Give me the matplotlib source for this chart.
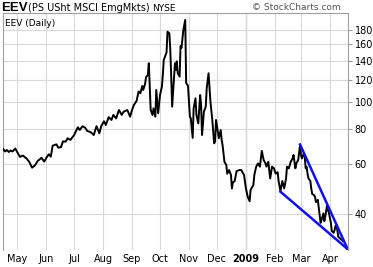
import matplotlib
matplotlib.use('Agg')
import matplotlib.pyplot as plt
import matplotlib.dates as mdates
from matplotlib.ticker import FixedLocator, NullLocator, FuncFormatter
import pandas as pd

dates = [
    '2008-04-16', '2008-04-18', '2008-04-20', '2008-04-22', '2008-04-24', '2008-04-26', '2008-04-29',
    '2008-05-01', '2008-05-04', '2008-05-07', '2008-05-11', '2008-05-14', '2008-05-17', '2008-05-20',
    '2008-05-23', '2008-05-27', '2008-05-30',
    '2008-06-02', '2008-06-04', '2008-06-06', '2008-06-08', '2008-06-12', '2008-06-14', '2008-06-17',
    '2008-06-19', '2008-06-22', '2008-06-24', '2008-06-27',
    '2008-07-01', '2008-07-05', '2008-07-07', '2008-07-10', '2008-07-13', '2008-07-15', '2008-07-19',
    '2008-07-22', '2008-07-25', '2008-07-28', '2008-07-30',
    '2008-08-02', '2008-08-04', '2008-08-07', '2008-08-10', '2008-08-12', '2008-08-15', '2008-08-18',
    '2008-08-21', '2008-08-23', '2008-08-27', '2008-08-30',
    '2008-09-01', '2008-09-03', '2008-09-06', '2008-09-08', '2008-09-10', '2008-09-12', '2008-09-13',
    '2008-09-15', '2008-09-16', '2008-09-18', '2008-09-19', '2008-09-20', '2008-09-21', '2008-09-23',
    '2008-09-24', '2008-09-26', '2008-09-27', '2008-09-29',
    '2008-10-01', '2008-10-03', '2008-10-04', '2008-10-05', '2008-10-08', '2008-10-09', '2008-10-11',
    '2008-10-12', '2008-10-13', '2008-10-14', '2008-10-16', '2008-10-17', '2008-10-18', '2008-10-19',
    '2008-10-20', '2008-10-22', '2008-10-23', '2008-10-24', '2008-10-26', '2008-10-28', '2008-10-29',
    '2008-10-31',
    '2008-11-02', '2008-11-03', '2008-11-05', '2008-11-06', '2008-11-08', '2008-11-09', '2008-11-11',
    '2008-11-13', '2008-11-14', '2008-11-15', '2008-11-17', '2008-11-19', '2008-11-20', '2008-11-22',
    '2008-11-24', '2008-11-26', '2008-11-28', '2008-11-29', '2008-11-30',
    '2008-12-02', '2008-12-03', '2008-12-05', '2008-12-06', '2008-12-07', '2008-12-09', '2008-12-11',
    '2008-12-12', '2008-12-14', '2008-12-16', '2008-12-17', '2008-12-18', '2008-12-20', '2008-12-22',
    '2008-12-25', '2008-12-27', '2008-12-30',
    '2009-01-01', '2009-01-03', '2009-01-05', '2009-01-06', '2009-01-09', '2009-01-10', '2009-01-12',
    '2009-01-14', '2009-01-16', '2009-01-18', '2009-01-20', '2009-01-22', '2009-01-23', '2009-01-25',
    '2009-01-27', '2009-01-29', '2009-01-31',
    '2009-02-02', '2009-02-04', '2009-02-05', '2009-02-07', '2009-02-09', '2009-02-11', '2009-02-13',
    '2009-02-14', '2009-02-16', '2009-02-18', '2009-02-20', '2009-02-21', '2009-02-23', '2009-02-24',
    '2009-02-26', '2009-02-28',
    '2009-03-01', '2009-03-02', '2009-03-04', '2009-03-05', '2009-03-06', '2009-03-07', '2009-03-08',
    '2009-03-09', '2009-03-11', '2009-03-12', '2009-03-13', '2009-03-15', '2009-03-16', '2009-03-17',
    '2009-03-19', '2009-03-21', '2009-03-22', '2009-03-23', '2009-03-25', '2009-03-26', '2009-03-27',
    '2009-03-29', '2009-03-30', '2009-03-31',
    '2009-04-02', '2009-04-03', '2009-04-05', '2009-04-06', '2009-04-07', '2009-04-08', '2009-04-09',
    '2009-04-10', '2009-04-12', '2009-04-14', '2009-04-15',
]
closes = [
    68.1, 66.7, 67.5, 66.4, 67.2, 66.7, 68.3,
    66.4, 63.8, 64.5, 63.0, 61.2, 58.4, 59.5,
    61.7, 63.3, 61.4,
    63.9, 65.2, 63.9, 69.9, 70.7, 68.8, 69.1,
    72.4, 72.3, 74.3, 73.3,
    76.3, 81.3, 79.5, 82.0, 80.9, 78.9, 78.0,
    76.3, 82.0, 77.4, 82.0,
    85.4, 82.8, 88.3, 86.3, 89.9, 87.4, 93.6,
    89.9, 92.3, 93.6, 88.6,
    93.6, 97.5, 101.0, 108.9, 107.4, 114.0, 110.3,
    115.8, 122.4, 124.7, 137.2, 113.3, 93.6, 89.9,
    94.9, 88.6, 110.3, 91.1,
    105.8, 113.3, 124.7, 140.9, 150.0, 177.6, 175.2,
    152.9, 123.0, 96.2, 123.0, 137.2, 129.9, 139.4,
    126.4, 123.0, 158.0, 155.5, 180.1, 195.5, 116.8,
    114.0,
    88.6, 87.4, 74.5, 94.9, 103.0, 89.9, 83.9,
    105.8, 97.5, 76.3, 92.3, 96.2, 111.8, 126.4,
    100.2, 86.3, 71.3, 72.3, 86.3,
    78.4, 74.3, 79.5, 73.3, 70.3, 61.3, 59.7,
    55.6, 57.3, 55.0, 49.3, 51.7, 52.4, 56.8,
    57.3, 57.3, 55.0,
    49.3, 46.0, 44.4, 48.7, 50.7, 55.0, 58.9,
    60.5, 58.9, 67.0, 62.2, 60.5, 58.9, 61.3,
    53.5, 58.9, 58.1,
    55.6, 56.3, 52.4, 48.1, 52.4, 49.3, 53.5,
    58.9, 58.1, 61.3, 63.0, 64.8, 58.1, 60.5,
    62.2, 70.3,
    64.8, 63.0, 65.7, 63.9, 58.1, 58.9, 55.6,
    53.5, 52.4, 49.3, 47.1, 46.7, 46.0, 44.1,
    44.9, 39.7, 37.2, 38.1, 40.2, 37.7, 39.1,
    43.1, 41.3, 40.2,
    37.2, 34.8, 34.3, 35.1, 36.3, 36.6, 34.8,
    33.2, 32.7, 32.3, 32.0,
]

# Falling wedge trendlines
upper_trend_dates = ['2009-02-28', '2009-04-20']
upper_trend_values = [70.6, 30.0]
lower_trend_dates = ['2009-02-07', '2009-04-20']
lower_trend_values = [48.0, 30.0]

y_ticks = [40, 60, 80, 100, 120, 140, 160, 180]
month_names = {1: '2009', 2: 'Feb', 3: 'Mar', 4: 'Apr', 5: 'May', 6: 'Jun',
               7: 'Jul', 8: 'Aug', 9: 'Sep', 10: 'Oct', 11: 'Nov', 12: 'Dec'}


def main():
    x = pd.to_datetime(dates)

    fig = plt.figure(figsize=(3.73, 2.67), dpi=100)
    W, H = 373.0, 267.0
    left, right, top, bottom = 2.7, 348.3, 13.0, 250.0
    ax = fig.add_axes([left / W, 1 - bottom / H, (right - left) / W, (bottom - top) / H])

    ax.set_yscale('log')
    ax.set_ylim(29.8, 206.9)
    ax.set_xlim(pd.Timestamp('2008-04-15 12:00'), pd.Timestamp('2009-04-20 16:00'))

    # grid
    ax.yaxis.set_major_locator(FixedLocator(y_ticks))
    ax.yaxis.set_minor_locator(NullLocator())
    ax.yaxis.set_major_formatter(FuncFormatter(lambda v, p: f'{v:.0f}'))
    ax.xaxis.set_major_locator(mdates.MonthLocator())
    ax.xaxis.set_major_formatter(FuncFormatter(
        lambda v, p: month_names[mdates.num2date(v).month]))
    ax.grid(True, color='#d9d9d9', linewidth=0.8)
    ax.set_axisbelow(True)
    ax.axvline(pd.Timestamp('2009-01-01'), color='#a8a8a8', linewidth=0.9, zorder=0.5)

    ax.plot(x, closes, color='black', linewidth=1.4, zorder=3)
    ax.plot(pd.to_datetime(upper_trend_dates), upper_trend_values,
            color='#1010ee', linewidth=1.8, zorder=4)
    ax.plot(pd.to_datetime(lower_trend_dates), lower_trend_values,
            color='#1010ee', linewidth=1.8, zorder=4)

    ax.yaxis.tick_right()
    ax.tick_params(axis='y', length=3, width=0.8, color='#999999', labelsize=7, pad=1.5)
    ax.tick_params(axis='x', length=0, labelsize=7, pad=3)
    for lbl in ax.get_xticklabels():
        if lbl.get_text() == '2009':
            lbl.set_fontweight('bold')

    for side in ['left', 'top', 'right']:
        ax.spines[side].set_color('#a0a0a0')
        ax.spines[side].set_linewidth(0.8)
    ax.spines['bottom'].set_visible(False)

    # header texts
    fig.text(1 / W, 1 - 11 / H, 'EEV', fontsize=9.5, fontweight='bold', va='baseline',
             family='Liberation Sans')
    fig.text(28 / W, 1 - 11 / H, '(PS USht MSCI EmgMkts)', fontsize=7, va='baseline')
    fig.text(152 / W, 1 - 11 / H, 'NYSE', fontsize=6.5, va='baseline')
    fig.text(341 / W, 1 - 10.5 / H, '\u00a9 StockCharts.com', fontsize=6.5, color='#555555',
             ha='right', va='baseline')
    ax.text(0.008, 0.975, 'EEV (Daily)', transform=ax.transAxes, fontsize=6.5,
            va='top', ha='left')

    fig.savefig('out.png', dpi=100)


if __name__ == "__main__":
    main()
